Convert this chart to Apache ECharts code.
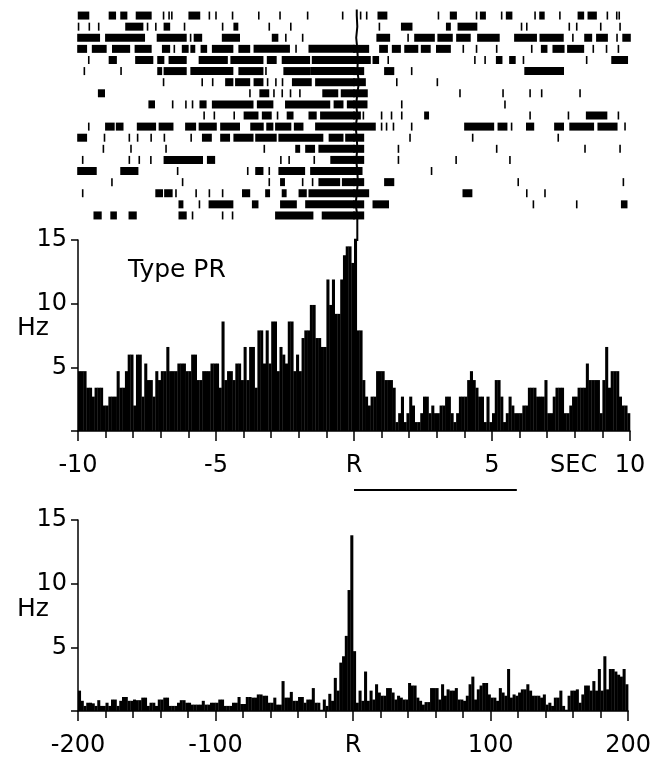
<!DOCTYPE html>
<html>
<head>
<meta charset="utf-8">
<script src="https://cdn.jsdelivr.net/npm/echarts@6/dist/echarts.min.js"></script>
<style>
  html, body { margin: 0; padding: 0; background: #fff; }
  #main { width: 654px; height: 758px; }
</style>
</head>
<body>
<div id="main"></div>
<script>
// spike raster, one array per trial: single spikes (s) or [start, end] bursts
var rasterRows = [
  [[-9.98,-9.62],[-8.86,-8.65],[-8.44,-8.24],[-7.88,-7.36],-6.9,-6.7,-6.6,[-5.97,-5.6],-5.24,-5.0,-4.4,-3.45,-2.68,-1.68,-0.41,0.24,0.46,[0.88,1.18],3.06,[3.5,3.7],4.44,[4.59,4.75],5.35,[5.53,5.71],6.56,[6.74,6.88],7.46,[8.13,8.31],[8.49,8.77],9.18,9.52,9.61],
  [-9.98,-9.59,-9.25,[-8.26,-7.66],-7.48,-7.18,[-6.87,-6.69],-6.14,-4.76,[-4.34,-4.22],-3.07,-2.29,0.92,[1.73,2.09],[3.36,3.48],[3.78,4.44],6.07,6.26,7.8,8.07,8.94,9.64],
  [[-10,-9.23],[-8.99,-7.6],[-7.12,-6.09],-5.92,[-5.78,-5.53],[-4.76,-4.16],[-2.95,-2.77],-2.47,-1.86,[0.84,1.28],1.96,[2.21,2.9],[3.05,3.55],[3.73,4.2],[4.49,5.25],[5.83,6.6],[6.75,7.57],7.93,[8.37,8.6],[8.8,9.17],9.53,[9.75,10]],
  [[-10,-9.7],[-9.47,-8.99],[-8.74,-8.14],[-7.92,-7.36],[-6.93,-6.69],-6.51,[-6.21,-6.02],[-5.9,-5.78],[-5.53,-5.35],[-5.12,-4.4],[-4.16,-3.79],[-3.61,-2.35],-2.1,[-1.62,0],[0,0.52],[0.94,1.2],[1.4,1.67],[1.85,2.3],[2.45,2.75],[3.0,3.48],3.96,4.44,5.17,6.44,[6.8,6.98],[7.22,7.6],[7.75,8.31],8.67,9.15,9.58],
  [-9.61,[-8.86,-8.62],[-7.9,-7.3],[-7.1,-6.9],[-6.69,-6.09],[-5.6,-4.6],[-4.45,-3.31],[-3.13,-2.83],[-2.59,-1.62],[-1.5,0],[0,0.58],[0.7,0.88],1.24,4.38,4.75,[5.17,5.35],[5.65,5.83],6.14,8.43,[9.35,9.9]],
  [-9.77,-8.44,[-7.1,-6.98],[-6.87,-6.09],[-5.9,-4.4],[-4.16,-3.31],-3.19,[-2.53,-1.62],[-1.56,0],[0,0.34],[1.12,1.43],2.09,[6.2,7.58]],
  [-6.9,-5.5,-5.12,[-4.64,-4.4],[-4.28,-3.79],[-3.61,-3.31],-3.13,-2.83,-2.59,[-2.22,-1.56],[-1.38,0],[0,0.4],1.55,3.02],
  [[-9.25,-9.05],-3.77,[-3.4,-3.1],-2.9,-2.6,-2.3,-1.96,[-1.12,-0.6],[-0.45,0],[0,0.47],3.84,5.4,6.38,6.8,8.19],
  [[-7.42,-7.24],-6.57,-6.09,-5.85,[-5.57,-5.37],[-5.12,-3.67],[-3.49,-2.95],[-2.47,-0.89],[-0.71,-0.41],[-0.23,0],[0,0.46],1.73,5.47],
  [-5.43,-5.06,-4.34,[-3.97,-3.49],[-3.31,-3.01],-2.77,[-2.41,-2.22],[-1.62,-1.38],[-1.2,0],[0,0.22],0.34,1.0,1.36,1.73,[2.57,2.69],6.38,7.77,[8.43,9.15],9.58],
  [-9.61,[-8.99,-8.7],[-8.6,-8.38],[-7.84,-7.2],[-7.05,-6.57],[-6.09,-5.75],[-5.6,-5.0],[-4.82,-4.16],[-3.73,-3.3],[-3.15,-2.95],[-2.83,-2.3],[-2.15,-1.86],[-1.38,0],[0,0.76],1.0,1.18,1.43,2.09,[4.02,5.05],[5.23,5.53],5.71,[6.26,6.5],[7.28,7.58],[7.83,8.67],[8.85,9.52],9.82],
  [[-10,-9.7],-9.04,-8.14,-7.84,-7.35,-6.87,-5.9,[-5.48,-5.18],[-4.82,-4.52],[-4.34,-3.67],[-3.55,-2.83],[-2.71,-1.14],[-0.89,-0.41],[-0.29,0],[0,0.34],2.03,4.3,7.4],
  [-9.08,-8.08,-6.81,-3.25,[-2.1,-1.98],[-1.74,-1.44],[-1.26,0],[0,0.34],1.61,5.17,8.37,9.64],
  [-9.83,-8.14,-7.78,-7.36,[-6.87,-5.5],[-5.3,-5.06],-2.65,-2.35,-1.44,[-0.83,0],[0,0.34],1.61,3.7,5.65],
  [[-10,-9.35],[-8.44,-7.84],-6.39,-3.85,[-3.55,-3.31],-3.07,[-2.71,-1.8],[-1.56,0],[0,0.28],2.81],
  [-8.77,-6.21,-3.07,[-2.65,-2.53],-1.86,-1.5,[-1.26,-0.53],[-0.41,0],[0,0.34],[1.12,1.43],5.95,9.76],
  [-9.83,[-7.17,-6.95],[-6.85,-6.6],-6.45,-5.72,-5.24,-4.76,[-4.03,-3.79],[-3.19,-3.07],[-2.59,-2.47],[-1.98,-1.74],[-1.62,0],[0,0.52],[3.96,4.26],6.26,6.92],
  [[-6.33,-6.21],-5.6,[-5.24,-4.4],[-3.67,-3.49],[-2.65,-2.1],[-1.74,0],[0,0.34],[0.7,1.24],6.5,8.07,[9.7,9.88]],
  [[-9.41,-9.17],[-8.8,-8.62],[-8.14,-7.9],[-6.33,-6.09],-5.85,-4.76,-4.4,[-2.83,-1.5],[-1.14,0],[0,0.34]]
];
// R-wave marker per trial (s)
var rMarks = [0.1,0.12,0.08,0.12,0.14,0.12,0.18,0.12,0.08,0.12,0.06,0.1,0.12,0.08,0.12,0.14,0.1,0.06,0.12];

// peri-event histogram, 0.1 s bins from -10 s
var rateStart = -10, rateBin = 0.1;
var rateHz = [
  4.7,4.7,4.7,3.4,3.4,2.7,3.4,3.4,3.4,2.0, 2.0,2.7,2.7,2.7,4.7,3.4,3.4,4.7,6.0,6.0,
  2.0,6.0,6.0,2.7,5.3,4.0,4.0,2.7,4.7,4.0, 4.7,4.7,6.6,4.7,4.7,4.7,5.3,5.3,5.3,4.7,
  4.7,6.0,6.0,4.0,4.0,4.7,4.7,4.7,5.3,5.3, 5.3,3.4,8.6,4.0,4.7,4.7,4.0,5.3,5.3,4.0,
  6.6,4.0,6.6,6.6,3.4,7.9,7.9,5.3,7.9,5.3, 8.6,8.6,4.7,6.6,6.0,5.3,8.6,8.6,4.7,6.0,
  4.7,7.3,7.9,7.9,9.9,9.9,7.3,7.3,6.6,6.6, 11.9,9.9,11.9,9.2,9.2,11.9,13.8,14.5,14.5,13.2,
  15.1,7.9,7.9,4.0,2.7,2.0,2.7,2.7,4.7,4.7, 4.7,4.0,4.0,4.0,3.4,0.7,1.4,2.7,0.7,1.4,
  2.7,2.0,0.7,0.7,1.4,2.7,2.7,1.4,2.0,1.4, 1.4,2.0,2.0,2.7,2.7,1.4,0.7,1.4,2.7,2.7,
  2.7,4.0,4.7,4.0,3.4,2.7,2.7,0.7,2.7,0.7, 1.4,4.0,4.0,2.7,0.7,1.4,2.7,2.0,1.4,1.4,
  1.4,2.0,2.0,3.4,3.4,3.4,2.7,2.7,2.7,4.0, 1.4,1.4,2.7,3.4,3.4,3.4,1.4,1.4,2.0,2.7,
  2.7,3.4,3.4,3.4,5.3,4.0,4.0,4.0,4.0,1.4, 4.0,6.6,3.4,4.7,4.7,4.7,2.7,2.0,2.0,1.4
];

// long-range histogram, 2-unit bins from -200
var longStart = -200, longBin = 2;
var longHz = [
  1.6,0.8,0.4,0.65,0.65,0.6,0.4,0.85,0.4,0.4, 0.65,0.4,0.9,0.9,0.4,0.8,1.1,1.1,0.8,0.8,
  0.9,0.85,0.85,1.05,1.05,0.4,0.65,0.65,0.4,0.9, 0.9,1.05,1.05,0.4,0.4,0.4,0.65,0.85,0.85,0.65,
  0.65,0.5,0.5,0.5,0.5,0.8,0.5,0.5,0.65,0.65, 0.65,0.9,0.9,0.4,0.4,0.4,0.65,0.65,1.1,0.55,
  0.55,1.1,1.1,1.05,1.05,1.3,1.3,1.2,1.2,0.65, 0.65,1.05,0.5,0.5,2.35,1.05,1.05,1.5,0.8,0.8,
  1.1,1.1,0.65,0.9,0.9,1.8,0.65,0.65,0.1,0.9, 0.4,1.35,0.8,2.6,1.6,3.8,4.3,5.9,9.5,13.8,
  4.7,0.65,1.6,0.8,3.1,0.8,1.6,0.9,2.1,1.45, 1.2,1.2,1.8,1.8,1.45,0.9,1.2,1.05,0.9,0.9,
  2.2,2.0,2.0,1.05,0.8,0.5,0.7,0.7,1.8,1.8, 1.8,0.9,2.1,1.2,1.7,1.6,1.6,1.8,0.9,0.9,
  0.8,1.2,2.1,2.7,0.9,1.7,2.0,2.2,2.2,1.3, 1.05,1.05,0.8,1.8,1.45,1.2,3.3,1.05,1.3,1.2,
  1.45,1.7,1.7,2.1,1.6,1.2,1.2,1.2,1.05,1.3, 0.5,0.65,0.4,1.05,1.05,1.6,0.4,0.1,1.2,1.6,
  1.6,1.7,0.65,1.3,2.0,2.0,1.6,2.35,1.6,3.3, 1.6,4.3,1.7,3.3,3.3,3.1,2.85,2.7,3.3,2.1
];

var scaleBar = [0, 5.9];   // horizontal bar under the top axis (s)

var FONT = 'DejaVu Sans';

var rasterData = [];
rasterRows.forEach(function (row, i) {
  row.forEach(function (s) {
    if (Array.isArray(s)) rasterData.push([i + 1, s[0], s[1]]);
    else rasterData.push([i + 1, s, s]);
  });
});
var rLine = [[rMarks[0], 0.45]].concat(rMarks.map(function (t, i) { return [t, i + 1]; }))
  .concat([[rMarks[rMarks.length - 1], 21.3]]);

function bins(vals, start, w) {
  return vals.map(function (v, i) { return [start + i * w, start + (i + 1) * w, v]; });
}

function renderSpike(params, api) {
  var p0 = api.coord([api.value(1), api.value(0)]);
  var p1 = api.coord([api.value(2), api.value(0)]);
  return {
    type: 'rect',
    shape: { x: p0[0] - 0.8, y: p0[1] - 4, width: Math.max(p1[0] - p0[0], 0) + 1.6, height: 8 },
    style: { fill: '#000' }
  };
}
function renderBin(params, api) {
  var a = api.coord([api.value(0), api.value(2)]);
  var b = api.coord([api.value(1), 0]);
  return {
    type: 'rect',
    shape: { x: a[0], y: a[1], width: b[0] - a[0] + 0.3, height: b[1] - a[1] },
    style: { fill: '#000' }
  };
}

var axisLineStyle = { color: '#000', width: 1.5 };
var labelStyle = { color: '#000', fontSize: 24, fontFamily: FONT };

function xAxisFor(gi, min, max, interval) {
  return {
    type: 'value', gridIndex: gi, min: min, max: max, interval: interval,
    axisLine: { lineStyle: axisLineStyle, onZero: false },
    axisTick: { length: 10, lineStyle: { color: '#000', width: 1.5 } },
    minorTick: { show: true, splitNumber: 5, length: 7, lineStyle: { color: '#000', width: 1.5 } },
    splitLine: { show: false },
    axisLabel: Object.assign({ margin: 23, formatter: function (v) { return v === 0 ? 'R' : String(v); } }, labelStyle)
  };
}
function yAxisFor(gi) {
  return {
    type: 'value', gridIndex: gi, min: 0, max: 15, interval: 5,
    axisLine: { show: true, onZero: false, lineStyle: axisLineStyle },
    axisTick: { show: true, length: 7, lineStyle: { color: '#000', width: 1.5 } },
    splitLine: { show: false },
    axisLabel: Object.assign({ margin: 11, formatter: function (v) { return v === 0 ? '' : String(v); } }, labelStyle)
  };
}

var myChart = echarts.init(document.getElementById('main'));

var option = {
  backgroundColor: '#fff',
  animation: false,
  grid: [
    { left: 78, width: 552, top: 10, height: 211 },
    { left: 78, width: 552, top: 240, height: 191 },
    { left: 78, width: 552, top: 520, height: 192 }
  ],
  xAxis: [
    { type: 'value', gridIndex: 0, min: -10, max: 10, show: false },
    xAxisFor(1, -10, 10, 5),
    xAxisFor(2, -200, 200, 100)
  ],
  yAxis: [
    { type: 'value', gridIndex: 0, min: 0.5, max: 19.5, inverse: true, show: false },
    yAxisFor(1),
    yAxisFor(2)
  ],
  series: [
    { type: 'custom', xAxisIndex: 0, yAxisIndex: 0, renderItem: renderSpike, data: rasterData,
      encode: { x: [1, 2], y: 0 }, clip: false, silent: true },
    { type: 'line', xAxisIndex: 0, yAxisIndex: 0, data: rLine, symbol: 'none', clip: false,
      lineStyle: { color: '#000', width: 2 }, z: 3, silent: true },
    { type: 'custom', xAxisIndex: 1, yAxisIndex: 1, renderItem: renderBin, silent: true,
      data: bins(rateHz, rateStart, rateBin), encode: { x: [0, 1], y: 2 }, clip: false },
    { type: 'custom', xAxisIndex: 2, yAxisIndex: 2, renderItem: renderBin, silent: true,
      data: bins(longHz, longStart, longBin), encode: { x: [0, 1], y: 2 }, clip: false }
  ]
};

myChart.setOption(option);

// texts and the scale bar under the top histogram
var bx0 = myChart.convertToPixel({ xAxisIndex: 1 }, scaleBar[0]);
var bx1 = myChart.convertToPixel({ xAxisIndex: 1 }, scaleBar[1]);
myChart.setOption({
  graphic: [
    { type: 'text', left: 128, top: 258, style: { text: 'Type PR', fill: '#000', fontSize: 25, fontFamily: FONT } },
    { type: 'text', left: 17, top: 316, style: { text: 'Hz', fill: '#000', fontSize: 25, fontFamily: FONT } },
    { type: 'text', left: 17, top: 597, style: { text: 'Hz', fill: '#000', fontSize: 25, fontFamily: FONT } },
    { type: 'text', left: 550, top: 454, style: { text: 'SEC', fill: '#000', fontSize: 24, fontFamily: FONT } },
    { type: 'line', shape: { x1: bx0, y1: 490, x2: bx1, y2: 490 }, style: { stroke: '#000', lineWidth: 2 } }
  ]
});
</script>
</body>
</html>
